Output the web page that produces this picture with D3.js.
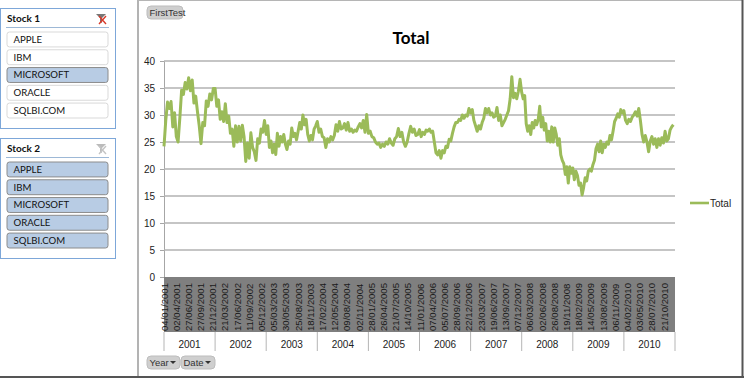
<!DOCTYPE html>
<html>
<head>
<meta charset="utf-8">
<script src="https://cdnjs.cloudflare.com/ajax/libs/d3/7.8.5/d3.min.js"></script>
<style>
  html, body { margin: 0; padding: 0; background: #fff; overflow: hidden; }
  text { font-family: "Liberation Sans", Arial, sans-serif; }
  .cal { font-family: Lato, "Open Sans", sans-serif; }
</style>
</head>
<body>
<div id="chart"></div>
<script>
// values, one list per year
const total2001 = [24.2,29,32.4,31.2,32.5,27.8,30.4,26,25,29.5,34.6,33.8,36,34.8,36.9,34.5,36.5,32.2,33.5,30.6,28,24.7,28.6,28,32.6,31.6,33.9,32.8,34.9];
const total2002 = [34.9,31.6,32.8,29.2,30.6,28.8,32.1,28.6,29.8,26.6,27.4,24.2,28,25,27.9,25.2,28.1,26,21.4,24.8,22,26.7,24,23.2,21.6,25.6,24.8,27.4,26.8,29];
const total2003 = [26.4,28,24,25.2,23,24.6,22.7,26.6,24.2,26,25,26.4,24.6,23.6,25.2,24.6,27.6,26,26.6,25.4,27,28.6,27.4,30,28.2,29.2,26.4,25.2,26.2,25.4,27.4,28];
const total2004 = [28.8,26.8,27.4,26,25.8,24,25.6,25,26,25.4,26.2,28.2,27,28.8,27.4,27.6,28.4,27.2,28.6,27,27.4,26.8,27.2,27,27.8,28.4,27.6,29,26.8,30.1];
const total2005 = [26.6,27,26,25.8,25,24.6,24.8,24,24.6,24.2,25,24.6,25.6,24.8,24.4,25.6,26,27.5,26,26.8,25,24.2,25,26.6,27.9,26.8,27.4,26.2,26.4];
const total2006 = [27.3,26,26.8,26.4,27.2,27,27.4,26.8,27,25,23,22.6,23.4,22,23.4,23,24.2,24,25.5,25.2,26.6,27.8,28.6,28.6,29.2,29,30,29.4,30,29.8,31.2];
const total2007 = [30.4,31,29,28,27,28,27.4,28.6,29.4,31.2,30.4,31.2,30,30.4,29.6,29.8,31.4,29,30,28,28.6,29.2,30,30.8,33,37.1,33.2,34,33,34.4,36.6];
const total2008 = [34.2,33,33.6,28.4,27,28,26.4,28.6,27.6,29,28.2,29.2,31.6,27.8,29.6,27.2,28.4,25.2,27,25,27.8,25,27.6,26.4,24.4,25.6,22.6,21.6,21,19,20.4,17.4,20.4,19.2];
const total2009 = [20.2,18,19.6,18.8,17,17.4,15.2,16.6,18.4,17.8,19.6,20,19.6,20.8,21.6,23.8,24.6,23.2,25.2,23,24.6,24,25,24.6,26.2,25.4,27,28.8,29.4,30.2,29.6,31,30.4];
const total2010 = [30.8,29,28.4,29.2,28.8,29.6,30,30.6,29.8,31.2,29,26.4,25,26.2,25,23.2,25.2,26,24.6,25.6,24,25.6,24.4,25.8,24.8,27,25.2,25.6,27.2,27.8,28.2];

const years = ["2001","2002","2003","2004","2005","2006","2007","2008","2009","2010"];
const dateLabels = ["04/01/2001","02/04/2001","27/06/2001","27/09/2001","21/12/2001","21/03/2002","17/06/2002","11/09/2002","05/12/2002","05/03/2003","30/05/2003","25/08/2003","18/11/2003","17/02/2004","12/05/2004","09/08/2004","02/11/2004","28/01/2005","26/04/2005","21/07/2005","14/10/2005","11/01/2006","07/04/2006","05/07/2006","28/09/2006","22/12/2006","23/03/2007","19/06/2007","13/09/2007","07/12/2007","06/03/2008","02/06/2008","26/08/2008","19/11/2008","18/02/2009","14/05/2009","13/08/2009","06/11/2009","04/02/2010","03/05/2010","28/07/2010","21/10/2010"];
const yTicks = [0,5,10,15,20,25,30,35,40];
const stocks = ["APPLE","IBM","MICROSOFT","ORACLE","SQLBI.COM"];
const stock1Selected = ["MICROSOFT"];
const stock2Selected = ["APPLE","IBM","MICROSOFT","ORACLE","SQLBI.COM"];

const totalByYear = [total2001,total2002,total2003,total2004,total2005,total2006,total2007,total2008,total2009,total2010];

const width = 747, height = 380;
const plot = {left: 164, right: 675, top: 61, bottom: 277};
const green = "#9bbb59";

const svg = d3.select("#chart").append("svg")
	.attr("width", width)
	.attr("height", height)
	.style("display", "block");

// scales
const y = d3.scaleLinear().domain([0, 40]).range([plot.bottom, plot.top]);
const xDate = d3.scalePoint().domain(dateLabels).range([plot.left, 664]);
const xYear = d3.scaleBand().domain(years).range([plot.left, plot.right]);

// every year list is spread over its own year band
const points = [];
totalByYear.forEach((vals, k) => {
	const xInYear = d3.scaleLinear()
		.domain([0, vals.length])
		.range([xYear(years[k]), xYear(years[k]) + xYear.bandwidth()]);
	vals.forEach((v, i) => points.push({x: xInYear(i), v: v}));
});

// window frame of the chart area
svg.append("line").attr("x1", 138).attr("x2", 138).attr("y1", 0).attr("y2", 377).attr("stroke", "#9a9a9a").attr("stroke-width", 1.5);
svg.append("line").attr("x1", 138).attr("x2", 743).attr("y1", 0.5).attr("y2", 0.5).attr("stroke", "#b5b5b5");
svg.append("line").attr("x1", 742.5).attr("x2", 742.5).attr("y1", 0).attr("y2", 378).attr("stroke", "#555").attr("stroke-width", 2);
svg.append("line").attr("x1", 0).attr("x2", 744).attr("y1", 377).attr("y2", 377).attr("stroke", "#555").attr("stroke-width", 2);

// title
svg.append("text")
	.attr("class", "cal")
	.attr("x", 411).attr("y", 43.5)
	.attr("text-anchor", "middle")
	.style("font-size", "17px")
	.style("font-weight", "bold")
	.attr("fill", "#000")
	.text("Total");

// y axis + gridlines
const yAxis = d3.axisLeft(y).tickValues(yTicks).tickSize(4).tickPadding(5);
const yG = svg.append("g").attr("transform", "translate(" + plot.left + ",0)").call(yAxis);
yG.select(".domain").attr("stroke", "#a6a6a6");
yG.selectAll(".tick line").attr("stroke", "#a6a6a6");
yG.selectAll("text").style("font-size", "10px").style("font-family", "'Liberation Sans'").attr("fill", "#222");

svg.append("g").selectAll("line").data(yTicks.filter(d => d > 0))
	.enter().append("line")
	.attr("x1", plot.left).attr("x2", plot.right)
	.attr("y1", d => y(d)).attr("y2", d => y(d))
	.attr("stroke", "#b2b2b2")
	.attr("stroke-width", 1.3);

// date band
svg.append("rect")
	.attr("x", plot.left).attr("y", plot.bottom)
	.attr("width", plot.right - plot.left).attr("height", 55)
	.attr("fill", "#7f7f7f");

svg.append("g").selectAll("text").data(dateLabels)
	.enter().append("text")
	.attr("transform", d => "translate(" + (xDate(d) + 3.5) + ",331) rotate(-90)")
	.style("font-size", "9.6px")
	.attr("fill", "#1a1a1a")
	.text(d => d);

// the line
const line = d3.line().x(d => d.x).y(d => y(d.v));
svg.append("path")
	.datum(points)
	.attr("d", line)
	.attr("fill", "none")
	.attr("stroke", green)
	.attr("stroke-width", 3)
	.attr("stroke-linejoin", "round");

// year row
const yearDividers = [plot.left].concat(years.map(d => xYear(d) + xYear.bandwidth()));
svg.append("g").selectAll("line").data(yearDividers)
	.enter().append("line")
	.attr("x1", d => d).attr("x2", d => d)
	.attr("y1", 332).attr("y2", 351)
	.attr("stroke", "#b5b5b5");

svg.append("g").selectAll("text").data(years)
	.enter().append("text")
	.attr("x", d => xYear(d) + xYear.bandwidth() / 2)
	.attr("y", 348)
	.attr("text-anchor", "middle")
	.style("font-size", "10px")
	.attr("fill", "#222")
	.text(d => d);

// legend
svg.append("line").attr("x1", 690).attr("x2", 709).attr("y1", 203).attr("y2", 203).attr("stroke", green).attr("stroke-width", 2.6);
svg.append("text").attr("x", 710).attr("y", 206.5).style("font-size", "10px").attr("fill", "#222").text("Total");

// grey field buttons
function fieldButton(label, bx, by, bw, hasArrow) {
	const g = svg.append("g");
	g.append("rect")
		.attr("x", bx).attr("y", by).attr("width", bw).attr("height", 13).attr("rx", 4)
		.attr("fill", "#cfcfcf").attr("stroke", "#bdbdbd");
	g.append("text")
		.attr("x", bx + 2.5).attr("y", by + 10)
		.style("font-size", "9.5px").attr("fill", "#333")
		.text(label);
	if (hasArrow) {
		const ax = bx + bw - 10;
		g.append("path")
			.attr("d", "M" + ax + "," + (by + 5) + "h6l-3,3z")
			.attr("fill", "#333");
	}
}
fieldButton("FirstTest", 147, 6, 36, false);
fieldButton("Year", 147, 356, 33, true);
fieldButton("Date", 181, 356, 34, true);

// slicers
function slicer(title, top, selected, active) {
	const g = svg.append("g").attr("transform", "translate(0," + top + ")");
	g.append("rect")
		.attr("x", 0.5).attr("y", 0.5).attr("width", 115).attr("height", 120)
		.attr("fill", "#fff").attr("stroke", "#7da7d9");
	g.append("text")
		.attr("class", "cal")
		.attr("x", 7).attr("y", 14)
		.style("font-size", "10px").style("font-weight", "bold").attr("fill", "#111")
		.text(title);
	g.append("line")
		.attr("x1", 6).attr("x2", 109).attr("y1", 19.5).attr("y2", 19.5)
		.attr("stroke", "#9db8d6");
	// clear filter icon
	g.append("path")
		.attr("d", "M96,6h10l-4,4v5l-2,-1v-4z")
		.attr("fill", active ? "#777" : "#bbb");
	g.append("path")
		.attr("d", "M99,8l7,8M106,8l-7,8")
		.attr("stroke", active ? "#d83a2a" : "#c4c4c4")
		.attr("stroke-width", 1.4);

	const yItem = d3.scaleBand().domain(stocks).range([24, 110]).paddingInner(0.16);
	g.selectAll(".item").data(stocks)
		.enter().append("rect")
		.attr("class", "item")
		.attr("x", 7).attr("y", d => yItem(d))
		.attr("width", 101).attr("height", yItem.bandwidth())
		.attr("rx", 2.5)
		.attr("fill", d => selected.includes(d) ? "#b8cce4" : "#fff")
		.attr("stroke", d => selected.includes(d) ? "#8c8c8c" : "#d9d9d9");
	g.selectAll(".label").data(stocks)
		.enter().append("text")
		.attr("class", "label cal")
		.attr("x", 13.5).attr("y", d => yItem(d) + 10.8)
		.style("font-size", "9.6px").attr("fill", "#111")
		.text(d => d);
}
slicer("Stock 1", 8, stock1Selected, true);
slicer("Stock 2", 138, stock2Selected, false);
</script>
</body>
</html>
